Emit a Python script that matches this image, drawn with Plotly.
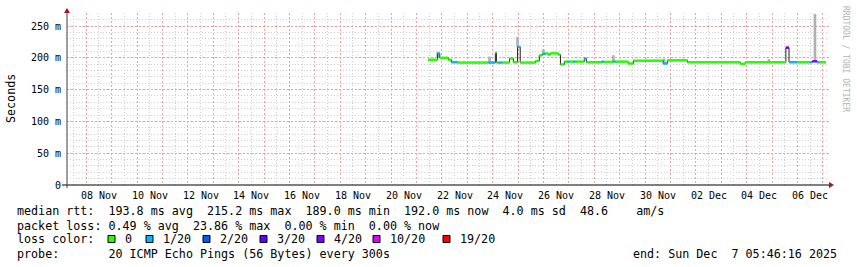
import plotly.graph_objects as go

# ---------------- data ----------------
# median RTT: step segments (start time, median in ms, lost pings of 20)
seg_start = [
    "2025-11-21 11:00", "2025-11-21 20:00", "2025-11-21 22:00", "2025-11-22 06:00",
    "2025-11-22 09:00", "2025-11-22 15:00", "2025-11-23 20:00", "2025-11-24 02:30",
    "2025-11-24 03:30", "2025-11-24 05:30", "2025-11-24 09:00", "2025-11-24 16:00",
    "2025-11-24 19:30", "2025-11-24 23:30", "2025-11-25 02:00", "2025-11-25 16:30",
    "2025-11-25 20:00", "2025-11-25 23:00", "2025-11-26 02:00", "2025-11-26 04:30",
    "2025-11-26 06:30", "2025-11-26 14:00", "2025-11-26 16:00", "2025-11-26 19:45",
    "2025-11-26 22:30", "2025-11-27 00:30", "2025-11-27 04:00", "2025-11-27 06:00",
    "2025-11-27 14:30", "2025-11-27 16:30", "2025-11-28 07:00", "2025-11-28 09:00",
    "2025-11-28 18:00", "2025-11-28 20:00", "2025-11-29 08:00", "2025-11-29 13:00",
    "2025-11-30 17:00", "2025-11-30 21:00", "2025-12-01 16:00", "2025-12-03 18:00",
    "2025-12-03 22:30", "2025-12-05 13:00", "2025-12-05 16:00", "2025-12-05 23:30",
    "2025-12-06 12:00", "2025-12-06 14:00", "2025-12-06 18:30", "2025-12-06 20:30",
]
seg_median = [
    197, 207, 200, 197,
    193, 192.5, 192.5, 208,
    192.5, 192.5, 192.5, 199,
    193, 217, 192.5, 195,
    204, 206, 207, 205,
    207, 205, 189.5, 194,
    194, 194, 194, 194,
    199, 193, 194, 193.5,
    194, 194, 191, 195.5,
    191, 196, 193, 190.5,
    193, 216, 193, 193,
    193, 194.5, 193, 193,
]
seg_loss = [
    0, 1, 0, 0,
    1, 0, 1, 0,
    0, 1, 0, 0,
    0, 1, 0, 0,
    0, 1, 0, 0,
    0, 0, 0, 0,
    1, 0, 1, 0,
    1, 0, 1, 0,
    1, 0, 0, 0,
    1, 0, 0, 0,
    0, 3, 1, 0,
    1, 4, 1, 0,
]
data_end = "2025-12-07 03:00"

# smoke (spread of the individual pings)
smoke_time = ["2025-11-21 20:00", "2025-11-23 21:00", "2025-11-24 23:30", "2025-11-26 00:00",
              "2025-11-28 18:00", "2025-11-30 18:00", "2025-12-04 21:00", "2025-12-06 16:30"]
smoke_low = [200, 193, 217, 206, 194, 191, 193, 195]
smoke_high = [209, 202, 233, 213, 204, 199, 198, 269]

loss_levels = [0, 1, 2, 3, 4, 10, 19]
loss_colors = ["#26ff00", "#00b8ff", "#0059ff", "#5e00ff", "#7e00ff", "#dd00ff", "#ff0000"]
loss_labels = ["0", "1/20", "2/20", "3/20", "4/20", "10/20", "19/20"]

x_tick_dates = ["2025-11-08 12:00", "2025-11-10 12:00", "2025-11-12 12:00", "2025-11-14 12:00",
                "2025-11-16 12:00", "2025-11-18 12:00", "2025-11-20 12:00", "2025-11-22 12:00",
                "2025-11-24 12:00", "2025-11-26 12:00", "2025-11-28 12:00", "2025-11-30 12:00",
                "2025-12-02 12:00", "2025-12-04 12:00", "2025-12-06 12:00"]
x_tick_text = ["08 Nov", "10 Nov", "12 Nov", "14 Nov", "16 Nov", "18 Nov", "20 Nov", "22 Nov",
               "24 Nov", "26 Nov", "28 Nov", "30 Nov", "02 Dec", "04 Dec", "06 Dec"]
y_tick_vals = [0, 50, 100, 150, 200, 250]
y_tick_text = ["0", "50 m", "100 m", "150 m", "200 m", "250 m"]

rtt_avg, rtt_max, rtt_min, rtt_now, rtt_sd, rtt_ams = 193.8, 215.2, 189.0, 192.0, 4.0, 48.6
loss_avg, loss_max, loss_min, loss_now = 0.49, 23.86, 0.00, 0.00
probe_text = "20 ICMP Echo Pings (56 Bytes) every 300s"
end_text = "end: Sun Dec  7 05:46:16 2025"
x_start, x_end = "2025-11-07 05:46:16", "2025-12-07 05:46:16"

# ---------------- layout geometry ----------------
WIDTH, HEIGHT = 857, 267
L, R, T, B = 67, 829, 13, 185
W, H = R - L, B - T
Y_TOP = (B - T) * 250 / 159.0


def px(x):
    return (x - L) / W


def py(y):
    return (B - y) / H


MONO = "DejaVu Sans Mono"
NB = "\u00a0"


def nb(s):
    return s.replace(" ", NB)


fig = go.Figure()

# smoke
fig.add_trace(go.Bar(
    x=smoke_time, y=[h - l for h, l in zip(smoke_high, smoke_low)], base=smoke_low,
    width=2.5 * 3600 * 1000, marker=dict(color="#b0b0b0", line=dict(width=0)),
    hoverinfo="skip", showlegend=False))

# thin dark median line (shows the vertical transitions)
fig.add_trace(go.Scatter(
    x=seg_start + [data_end], y=seg_median + [seg_median[-1]],
    mode="lines", line=dict(color="#202020", width=1, shape="hv"),
    hoverinfo="skip", showlegend=False))

# coloured median segments by loss
ends = seg_start[1:] + [data_end]
for lvl, col in zip(loss_levels, loss_colors):
    xs, ys = [], []
    for s, e, v, ls in zip(seg_start, ends, seg_median, seg_loss):
        if ls == lvl:
            xs += [s, e, None]
            ys += [v, v, None]
    if xs:
        fig.add_trace(go.Scatter(x=xs, y=ys, mode="lines",
                                 line=dict(color=col, width=2.5),
                                 connectgaps=False, hoverinfo="skip", showlegend=False))

shapes = []
annotations = []

# axis lines & arrows
shapes.append(dict(type="line", xref="paper", yref="paper", x0=px(62), x1=px(829),
                   y0=py(185), y1=py(185), line=dict(color="#000000", width=1)))
shapes.append(dict(type="line", xref="paper", yref="paper", x0=px(67), x1=px(67),
                   y0=py(188), y1=py(12), line=dict(color="#404040", width=1)))
shapes.append(dict(type="path", xref="paper", yref="paper",
                   path=f"M {px(64)},{py(13)} L {px(70)},{py(13)} L {px(67)},{py(8)} Z",
                   fillcolor="#9a1c1c", line=dict(width=0)))
shapes.append(dict(type="path", xref="paper", yref="paper",
                   path=f"M {px(829)},{py(182)} L {px(829)},{py(188)} L {px(834)},{py(185)} Z",
                   fillcolor="#9a1c1c", line=dict(width=0)))

# x tick labels
for d, t in zip(x_tick_dates, x_tick_text):
    annotations.append(dict(x=d, xref="x", y=py(195), yref="paper", text=nb(t),
                            showarrow=False, xanchor="center", yanchor="middle",
                            font=dict(family=MONO, size=10, color="#000")))

# y axis title
annotations.append(dict(x=px(11), y=py(99), xref="paper", yref="paper", text="Seconds",
                        textangle=-90, showarrow=False, xanchor="center", yanchor="middle",
                        font=dict(family=MONO, size=11.7, color="#000")))
# watermark
annotations.append(dict(x=px(846), y=py(59), xref="paper", yref="paper",
                        text=nb("RRDTOOL / TOBI OETIKER"), textangle=90, showarrow=False,
                        xanchor="center", yanchor="middle",
                        font=dict(family=MONO, size=8, color="#b4b4b4")))

FS = 11.7
line1 = (f"median rtt:  {rtt_avg:.1f} ms avg  {rtt_max:.1f} ms max  {rtt_min:.1f} ms min  "
         f"{rtt_now:.1f} ms now  {rtt_sd:.1f} ms sd  {rtt_ams:.1f}    am/s")
line2 = (f"packet loss: {loss_avg:.2f} % avg  {loss_max:.2f} % max  {loss_min:.2f} % min  "
         f"{loss_now:.2f} % now")
line4 = f"probe:       {probe_text}"
for txt, yy in [(line1, 211), (line2, 225.7), ("loss color:", 239.3), (line4, 253.5)]:
    annotations.append(dict(x=px(15), y=py(yy), xref="paper", yref="paper", text=nb(txt),
                            showarrow=False, xanchor="left", yanchor="middle",
                            font=dict(family=MONO, size=FS, color="#000")))
annotations.append(dict(x=px(839), y=py(253.5), xref="paper", yref="paper", text=nb(end_text),
                        showarrow=False, xanchor="right", yanchor="middle",
                        font=dict(family=MONO, size=FS, color="#000")))

box_x = [108, 146, 203, 260, 317, 373, 443]
for bx, col, lab in zip(box_x, loss_colors, loss_labels):
    shapes.append(dict(type="rect", xref="paper", yref="paper", x0=px(bx), x1=px(bx + 7),
                       y0=py(242.5), y1=py(235.5), fillcolor=col,
                       line=dict(color="#000", width=1)))
    annotations.append(dict(x=px(bx + 15), y=py(239.3), xref="paper", yref="paper",
                            text=lab, showarrow=False, xanchor="left", yanchor="middle",
                            font=dict(family=MONO, size=FS, color="#000")))

fig.update_layout(
    width=WIDTH, height=HEIGHT, autosize=False,
    margin=dict(l=L, r=WIDTH - R, t=T, b=HEIGHT - B, pad=0),
    paper_bgcolor="#ffffff", plot_bgcolor="#ffffff",
    showlegend=False, barmode="overlay",
    shapes=shapes, annotations=annotations,
    xaxis=dict(type="date", range=[x_start, x_end], showticklabels=False, ticks="",
               showline=False, zeroline=False,
               tick0="2025-11-08 00:00", dtick=86400000,
               showgrid=True, gridcolor="#f2a0a0", griddash="2px,2px", gridwidth=1,
               minor=dict(tick0="2025-11-07 12:00", dtick=43200000, showgrid=True,
                          gridcolor="#cfcfcf", griddash="1px,2px", gridwidth=1)),
    yaxis=dict(range=[0, Y_TOP], tickvals=y_tick_vals, ticktext=[nb(t) for t in y_tick_text],
               ticks="", showline=False, zeroline=False, ticklabelstandoff=5,
               tickfont=dict(family=MONO, size=10, color="#000"),
               showgrid=True, gridcolor="#f2a0a0", griddash="2px,2px", gridwidth=1,
               minor=dict(dtick=10, tick0=0, showgrid=True, gridcolor="#cfcfcf",
                          griddash="1px,2px", gridwidth=1)),
)

fig.write_html("out.html")
